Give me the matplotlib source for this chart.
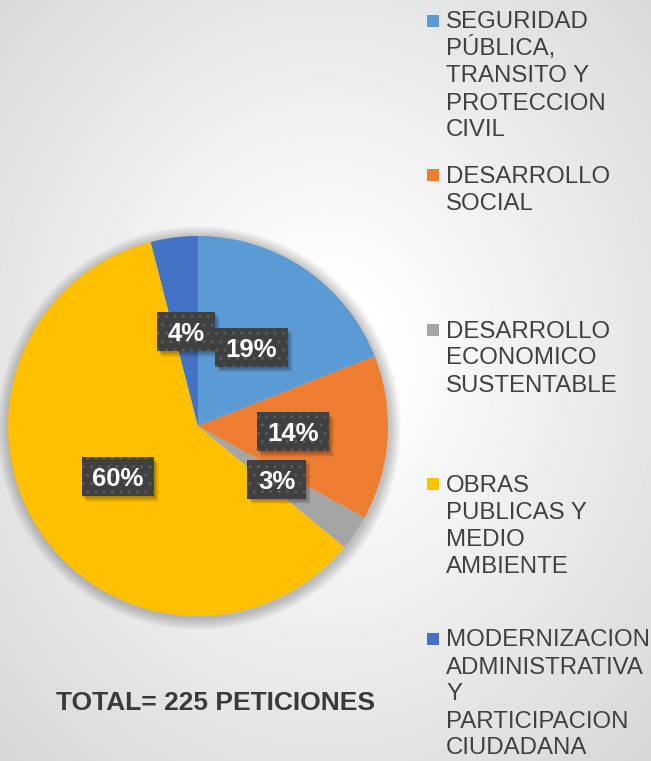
import matplotlib.pyplot as plt
import numpy as np

plt.rcParams['font.family'] = ['Liberation Sans', 'DejaVu Sans']

# Peticiones por área (porcentajes del total)
categorias = [
    'SEGURIDAD\nPÚBLICA,\nTRANSITO Y\nPROTECCION\nCIVIL',
    'DESARROLLO\nSOCIAL',
    'DESARROLLO\nECONOMICO\nSUSTENTABLE',
    'OBRAS\nPUBLICAS Y\nMEDIO\nAMBIENTE',
    'MODERNIZACION\nADMINISTRATIVA\nY\nPARTICIPACION\nCIUDADANA',
]
porcentajes = [19, 14, 3, 60, 4]
colores = ['#5B9BD5', '#ED7D31', '#A5A5A5', '#FFC000', '#4472C4']
total = 225

W, H = 651, 761
fig = plt.figure(figsize=(W / 100, H / 100), dpi=100)
ax = fig.add_axes([0, 0, 1, 1])

# fondo con degradado radial
yy, xx = np.mgrid[0:H, 0:W]
d = np.hypot((xx - 0.5 * W) / W, (yy - 0.47 * H) / H) / 0.72
fondo = 255 - 40 * np.clip((d - 0.12) / 0.88, 0, 1)
ax.imshow(fondo, cmap='gray', vmin=0, vmax=255, extent=(0, W, 0, H),
          origin='upper', zorder=0, interpolation='bilinear')

cx, cy, r = 198, H - 426, 190

# sombra suave alrededor del pastel
for k in range(12, 0, -1):
    ax.add_patch(plt.Circle((cx + 1, cy - 2), r + k * 1.0, color='black',
                            alpha=0.018, lw=0, zorder=1))

fs = 18.5
wedges, texts, autotexts = ax.pie(
    porcentajes, colors=colores, startangle=90, counterclock=False,
    center=(cx, cy), radius=r, autopct='%d%%', pctdistance=0.5,
    wedgeprops=dict(linewidth=0), frame=True,
    textprops=dict(color='white', fontsize=fs, fontweight='bold'))
for w in wedges:
    w.set_zorder(2)

ax.set_xlim(0, W)
ax.set_ylim(0, H)
ax.set_aspect('auto')
ax.axis('off')

# etiquetas de porcentaje en recuadros oscuros con sombra
cap = 0.716 * fs * 100 / 72
fig.canvas.draw()
ren = fig.canvas.get_renderer()
for t in autotexts:
    x, y = t.get_position()
    bb = t.get_window_extent(ren)
    bw, bh = bb.width + 21, 39
    x0, y0 = x - bw / 2, y - bh / 2
    for k in range(1, 7):
        ax.add_patch(plt.Rectangle((x0 + k * 0.8, y0 - k * 0.9), bw, bh,
                                   facecolor='black', lw=0, alpha=0.06, zorder=3))
    ax.add_patch(plt.Rectangle((x0, y0), bw, bh, facecolor='#404040',
                               edgecolor='#5a5a5a', lw=0, hatch='..', zorder=3.5))
    t.set_verticalalignment('baseline')
    t.set_position((x, y - cap / 2))
    t.set_zorder(4)

# leyenda a la derecha
base0, paso, interlinea = H - 28.5, 154.5, 27
for i, (nombre, c) in enumerate(zip(categorias, colores)):
    yb = base0 - i * paso
    ax.add_patch(plt.Rectangle((426.5, yb + 2), 12, 12, color=c, lw=0, zorder=5))
    for j, linea in enumerate(nombre.split('\n')):
        ax.text(446, yb - j * interlinea, linea, fontsize=17.3, color='#404040',
                ha='left', va='baseline', zorder=5)

ax.text(216, H - 703, f'TOTAL= {total} PETICIONES', fontsize=19,
        fontweight='bold', color='#3a3a3a', ha='center', va='center', zorder=5)

fig.savefig('out.png', dpi=100)
